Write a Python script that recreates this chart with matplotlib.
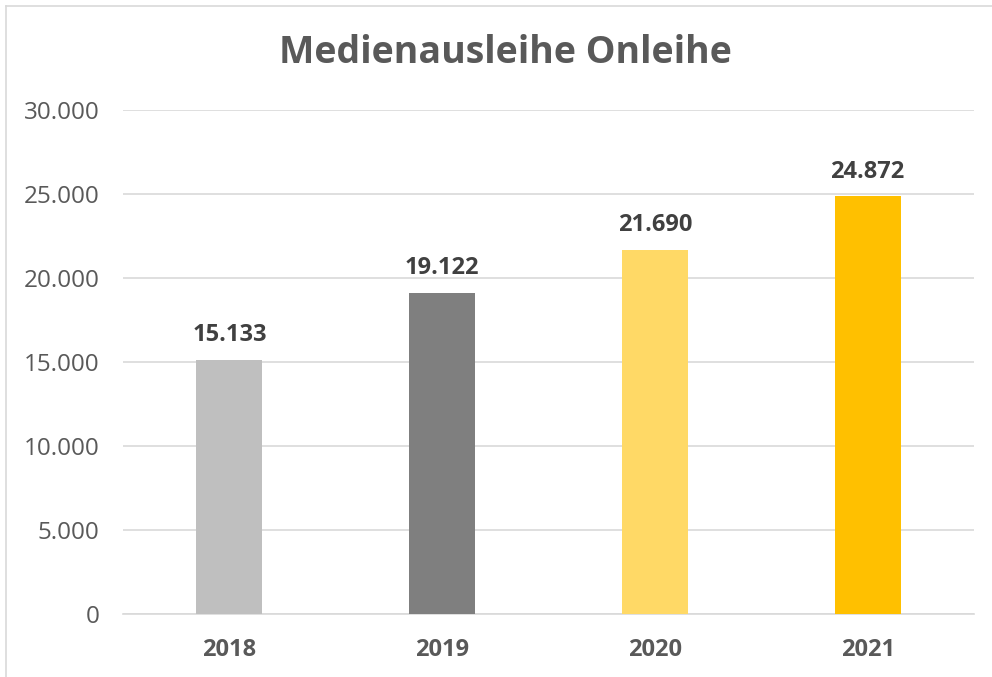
import matplotlib
matplotlib.use("Agg")
import matplotlib.pyplot as plt
from matplotlib.lines import Line2D

years = ["2018", "2019", "2020", "2021"]
values = [15133, 19122, 21690, 24872]
colors = ["#BFBFBF", "#7F7F7F", "#FFD966", "#FFC000"]
yticks = [0, 5000, 10000, 15000, 20000, 25000, 30000]

def fmt(v):
    return f"{v:,}".replace(",", ".")

plt.rcParams['font.family'] = ['Open Sans', 'DejaVu Sans']
txt = "#595959"

fig = plt.figure(figsize=(9.92, 6.77), dpi=100)
ax = fig.add_axes([123/992, 1-614/677, (974-123)/992, (614-110)/677])

x = range(len(years))
bars = ax.bar(x, values, width=0.31, color=colors, zorder=3)
ax.set_xlim(-0.5, 3.5)
ax.set_ylim(0, 30000)
ax.set_yticks(yticks)
ax.set_yticklabels([fmt(v) for v in yticks], fontsize=17.5, color=txt)
ax.set_xticks(list(x))
ax.set_xticklabels(years, fontsize=17, fontweight='bold', color=txt)
ax.tick_params(axis='both', length=0)
ax.tick_params(axis='y', pad=17)
ax.tick_params(axis='x', pad=17)
ax.grid(axis='y', color='#D9D9D9', linewidth=1.2, zorder=0)
for s in ['top', 'right', 'left']:
    ax.spines[s].set_visible(False)
ax.spines['bottom'].set_color('#D9D9D9')
ax.spines['bottom'].set_linewidth(1.2)

for i, v in enumerate(values):
    ax.annotate(fmt(v), (i, v), xytext=(0, 9), textcoords='offset points',
                ha='center', va='bottom', fontsize=17, fontweight='bold', color="#404040")

fig.text(505/992, 1-53/677, "Medienausleihe Onleihe", ha='center', va='center',
         fontsize=27, fontweight='bold', color=txt)

# chart border
fig.add_artist(Line2D([6/992, 6/992], [0, 1-6/677], transform=fig.transFigure, color='#D9D9D9', lw=1.2))
fig.add_artist(Line2D([6/992, 1], [1-6/677, 1-6/677], transform=fig.transFigure, color='#D9D9D9', lw=1.2))

fig.savefig("out.png", dpi=100)
